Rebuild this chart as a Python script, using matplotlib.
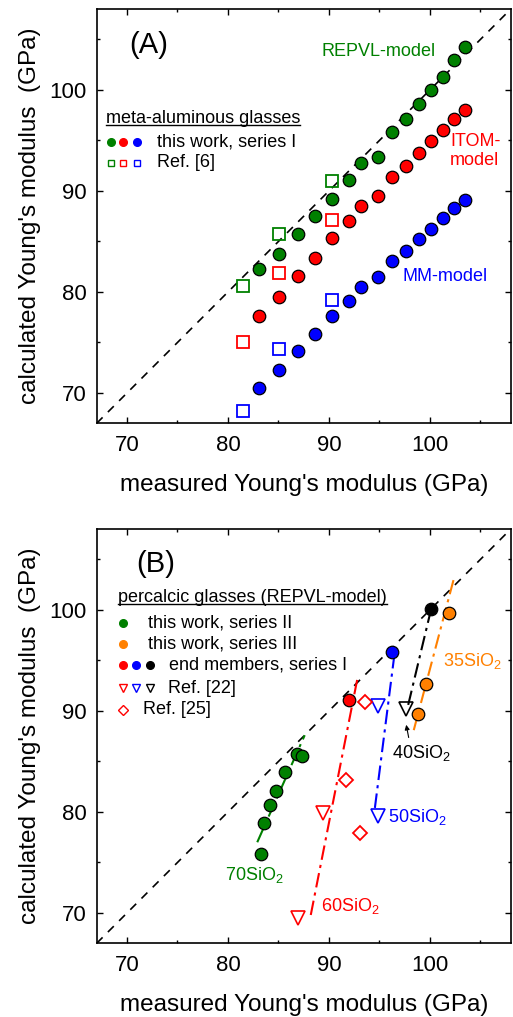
import matplotlib
matplotlib.use("Agg")
import matplotlib.pyplot as plt

plt.rcParams['font.family'] = ['Liberation Sans', 'DejaVu Sans']
plt.rcParams['mathtext.fontset'] = 'custom'
plt.rcParams['mathtext.rm'] = 'Liberation Sans'
plt.rcParams['mathtext.it'] = 'Liberation Sans:italic'

GREEN = '#008000'
RED = '#ff0000'
BLUE = '#0000ff'
ORANGE = '#ff8000'

# (A) meta-aluminous glasses, series I
meas_I = [83.1, 85.1, 86.9, 88.6, 90.3, 92.0, 93.2, 94.9, 96.2, 97.6, 98.9, 100.1, 101.3, 102.4, 103.5]
repvl_I = [82.3, 83.8, 85.7, 87.5, 89.2, 91.1, 92.8, 93.4, 95.8, 97.1, 98.6, 100.0, 101.3, 103.0, 104.3]
itom_I = [77.6, 79.5, 81.6, 83.4, 85.3, 87.0, 88.5, 89.5, 91.4, 92.5, 93.8, 94.9, 96.0, 97.1, 98.0]
mm_I = [70.5, 72.3, 74.2, 75.8, 77.6, 79.1, 80.5, 81.5, 83.1, 84.1, 85.2, 86.2, 87.3, 88.3, 89.1]

# (A) Ref. [6]
meas_ref6 = [81.5, 85.1, 90.3]
repvl_ref6 = [80.6, 85.7, 91.0]
itom_ref6 = [75.0, 81.9, 87.1]
mm_ref6 = [68.2, 74.4, 79.2]

# (B) percalcic glasses
meas_II = [83.3, 83.6, 84.2, 84.8, 85.6, 86.8, 87.3]
calc_II = [75.8, 78.9, 80.7, 82.1, 84.0, 85.7, 85.5]
meas_III = [98.8, 99.6, 101.9]
calc_III = [89.7, 92.7, 99.7]
meas_end = [92.0, 96.2, 100.1]
calc_end = [91.1, 95.8, 100.1]
end_colors = [RED, BLUE, 'k']
meas_ref22 = [86.9, 89.4, 94.9, 94.9, 97.6]
calc_ref22 = [69.5, 79.9, 90.5, 79.6, 90.2]
ref22_colors = [RED, RED, BLUE, BLUE, 'k']
meas_ref25 = [93.6, 91.7, 93.1]
calc_ref25 = [90.9, 83.2, 77.9]

# dash-dot trend lines (SiO2 content), end points
trend_names = ['70SiO$_2$', '60SiO$_2$', '50SiO$_2$', '40SiO$_2$', '35SiO$_2$']
trend_colors = [GREEN, RED, BLUE, 'k', ORANGE]
trend_x = [[82.9, 87.6], [88.2, 92.8], [94.55, 96.5], [97.85, 100.1], [98.4, 102.4]]
trend_y = [[77.0, 87.6], [69.8, 93.1], [80.4, 95.7], [90.6, 100.0], [88.1, 103.2]]
trend_label_xy = [(79.7, 73.8), (89.2, 70.7), (95.8, 79.5), (96.2, 85.8), (101.3, 94.9)]

LIM = (67, 108)

fig = plt.figure(figsize=(5.13, 10.17), dpi=100)
ax1 = fig.add_axes([0.1885, 0.5838, 0.807, 0.4072])
ax2 = fig.add_axes([0.1885, 0.0725, 0.807, 0.4072])


def style_axes(ax):
    ax.set_xlim(LIM)
    ax.set_ylim(LIM)
    ax.set_xticks([70, 80, 90, 100])
    ax.set_yticks([70, 80, 90, 100])
    ax.set_xticks([75, 85, 95, 105], minor=True)
    ax.set_yticks([75, 85, 95, 105], minor=True)
    ax.tick_params(which='both', direction='in', top=True, right=True,
                   labelsize=16, width=1.0, pad=7)
    ax.tick_params(axis='x', which='both', pad=8.5)
    ax.tick_params(which='major', length=4.5)
    ax.tick_params(which='minor', length=2.5)
    for s in ax.spines.values():
        s.set_linewidth(1.2)
    ax.set_xlabel("measured Young's modulus (GPa)", fontsize=17.5, labelpad=13)
    ax.set_ylabel("calculated Young's modulus  (GPa)", fontsize=17.5, labelpad=6)
    ax.plot(LIM, LIM, color='k', lw=1.2, dashes=(5, 4.5), zorder=1)


def underline(ax, t, drop=0.2):
    fig.canvas.draw()
    bb = t.get_window_extent(fig.canvas.get_renderer())
    inv = ax.transData.inverted()
    (x0, y0), (x1, y1) = inv.transform([[bb.x0, bb.y0], [bb.x1, bb.y1]])
    yy = y0 + drop
    ax.plot([x0, x1], [yy, yy], color='k', lw=1.0, zorder=5)


# ---------------- panel A ----------------
style_axes(ax1)
circ = dict(marker='o', ms=9, ls='none', mec='k', mew=0.9, zorder=4)
sq = dict(marker='s', ms=8, ls='none', mfc='none', mew=1.3, zorder=3)
ax1.plot(meas_I, repvl_I, mfc=GREEN, **circ)
ax1.plot(meas_I, itom_I, mfc=RED, **circ)
ax1.plot(meas_I, mm_I, mfc=BLUE, **circ)
ax1.plot(meas_ref6, repvl_ref6, mec=GREEN, **sq)
ax1.plot(meas_ref6, itom_ref6, mec=RED, **sq)
ax1.plot(meas_ref6, mm_ref6, mec=BLUE, **sq)

ax1.text(70.2, 104.5, '(A)', fontsize=21, va='center', ha='left')
ax1.text(89.3, 103.8, 'REPVL-model', color=GREEN, fontsize=13, va='center')
ax1.text(102.0, 94.0, 'ITOM-\nmodel', color=RED, fontsize=13, va='center',
         linespacing=1.15)
ax1.text(97.3, 81.5, 'MM-model', color=BLUE, fontsize=13, va='center')

tA = ax1.text(67.9, 97.2, 'meta-aluminous glasses', fontsize=13, va='center')
underline(ax1, tA)
key_x = [68.4, 69.65, 71.0]
for kx, c in zip(key_x, [GREEN, RED, BLUE]):
    ax1.plot(kx, 94.85, marker='o', ms=5.5, color=c, ls='none')
    ax1.plot(kx, 92.8, marker='s', ms=5, mfc='none', mec=c, mew=1.0, ls='none')
ax1.text(73.0, 94.85, 'this work, series I', fontsize=13, va='center')
ax1.text(73.0, 92.8, 'Ref. [6]', fontsize=13, va='center')

# ---------------- panel B ----------------
style_axes(ax2)
for xs, ys, c in zip(trend_x, trend_y, trend_colors):
    ax2.plot(xs, ys, color=c, lw=1.5, dashes=(7, 2.5, 1.5, 2.5), zorder=2)
for name, c, (lx, ly) in zip(trend_names, trend_colors, trend_label_xy):
    ax2.text(lx, ly, name, color=c, fontsize=13, va='center')

ax2.plot(meas_II, calc_II, mfc=GREEN, **circ)
ax2.plot(meas_III, calc_III, mfc=ORANGE, **circ)
for x, y, c in zip(meas_end, calc_end, end_colors):
    ax2.plot(x, y, mfc=c, **circ)
for x, y, c in zip(meas_ref22, calc_ref22, ref22_colors):
    ax2.plot(x, y, marker='v', ms=10.5, mfc='none', mec=c, mew=1.2, ls='none', zorder=3)
ax2.plot(meas_ref25, calc_ref25, marker='D', ms=7, mfc='none', mec=RED, mew=1.3,
         ls='none', zorder=3)

ax2.annotate('', xy=(97.6, 88.9), xytext=(97.95, 87.1),
             arrowprops=dict(arrowstyle='-|>', color='k', lw=0.8, mutation_scale=7))

ax2.text(70.9, 104.5, '(B)', fontsize=21, va='center', ha='left')
tB = ax2.text(69.1, 101.2, 'percalcic glasses (REPVL-model)', fontsize=13, va='center')
underline(ax2, tB)
ax2.plot(69.65, 98.74, marker='o', ms=5.5, color=GREEN, ls='none')
ax2.text(72.1, 98.74, 'this work, series II', fontsize=13, va='center')
ax2.plot(69.65, 96.63, marker='o', ms=5.5, color=ORANGE, ls='none')
ax2.text(72.1, 96.63, 'this work, series III', fontsize=13, va='center')
for kx, c in zip(key_x, [RED, BLUE, 'k']):
    ax2.plot(kx + 1.25, 94.55, marker='o', ms=5.5, color=c, ls='none')
    ax2.plot(kx + 1.25, 92.25, marker='v', ms=6, mfc='none', mec=c, mew=1.0, ls='none')
ax2.text(74.15, 94.55, 'end members, series I', fontsize=13, va='center')
ax2.text(74.1, 92.25, 'Ref. [22]', fontsize=13, va='center')
ax2.plot(69.65, 90.1, marker='D', ms=5, mfc='none', mec=RED, mew=1.0, ls='none')
ax2.text(71.6, 90.1, 'Ref. [25]', fontsize=13, va='center')

fig.savefig('out.png', dpi=100)
